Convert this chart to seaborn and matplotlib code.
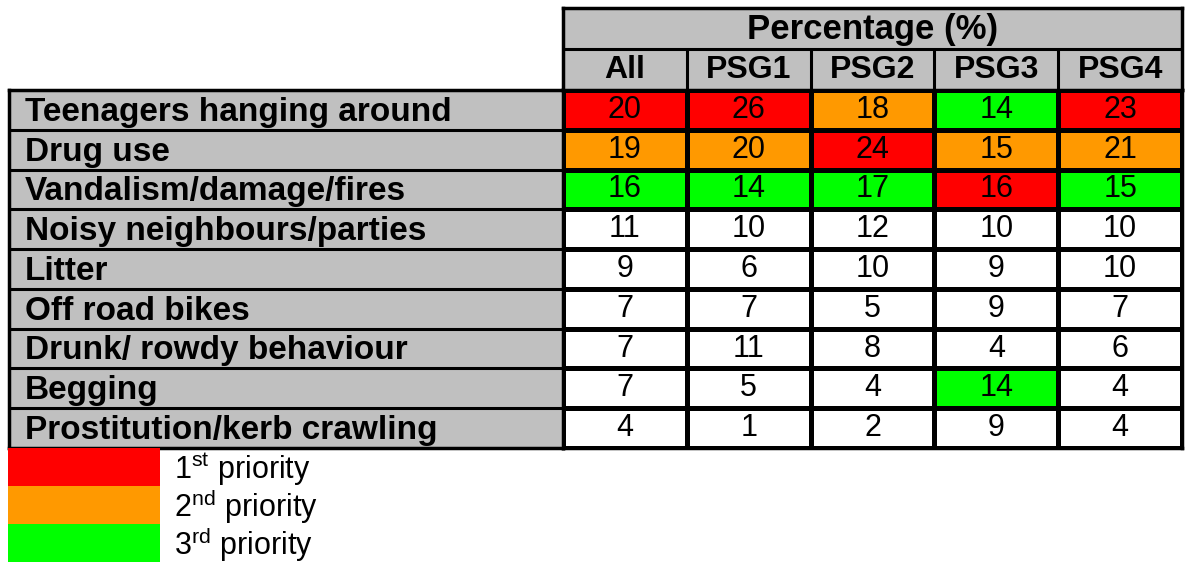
import matplotlib
matplotlib.use('Agg')

import numpy as np
import pandas as pd
import matplotlib.pyplot as plt
import seaborn as sns
from matplotlib.colors import ListedColormap

problems = ["Teenagers hanging around", "Drug use", "Vandalism/damage/fires",
            "Noisy neighbours/parties", "Litter", "Off road bikes",
            "Drunk/ rowdy behaviour", "Begging", "Prostitution/kerb crawling"]
groups = ["All", "PSG1", "PSG2", "PSG3", "PSG4"]

pct_all = [20, 19, 16, 11, 9, 7, 7, 7, 4]
pct_psg1 = [26, 20, 14, 10, 6, 7, 11, 5, 1]
pct_psg2 = [18, 24, 17, 12, 10, 5, 8, 4, 2]
pct_psg3 = [14, 15, 16, 10, 9, 9, 4, 14, 9]
pct_psg4 = [23, 21, 15, 10, 10, 7, 6, 4, 4]

# priority rank per cell (0 = none, 1 = 1st, 2 = 2nd, 3 = 3rd)
rank_all = [1, 2, 3, 0, 0, 0, 0, 0, 0]
rank_psg1 = [1, 2, 3, 0, 0, 0, 0, 0, 0]
rank_psg2 = [2, 1, 3, 0, 0, 0, 0, 0, 0]
rank_psg3 = [3, 2, 1, 0, 0, 0, 0, 3, 0]
rank_psg4 = [1, 2, 3, 0, 0, 0, 0, 0, 0]

legend_labels = ["1$^{st}$ priority", "2$^{nd}$ priority", "3$^{rd}$ priority"]

RED, ORANGE, GREEN, GREY = "#FF0000", "#FF9900", "#00FF00", "#C0C0C0"

values = pd.DataFrame(dict(zip(groups, [pct_all, pct_psg1, pct_psg2, pct_psg3, pct_psg4])),
                      index=problems)
ranks = pd.DataFrame(dict(zip(groups, [rank_all, rank_psg1, rank_psg2, rank_psg3, rank_psg4])),
                     index=problems)

sns.set_theme(style="white")
plt.rcParams['font.family'] = ['Liberation Sans', 'DejaVu Sans']
plt.rcParams['text.color'] = 'black'
plt.rcParams['mathtext.default'] = 'regular'

W, H = 1187, 563
fig = plt.figure(figsize=(W / 100, H / 100), dpi=100)

def box(x0, y0, x1, y1):
    # pixel box (top-left origin) -> figure fraction rect
    return [x0 / W, 1 - y1 / H, (x1 - x0) / W, (y1 - y0) / H]

# --- data cells ---
ax = fig.add_axes(box(563, 90, 1182, 448))
cmap = ListedColormap(["white", RED, ORANGE, GREEN])
sns.heatmap(ranks, ax=ax, cmap=cmap, vmin=-0.5, vmax=3.5, cbar=False,
            annot=values, fmt="d", linewidths=2.2, linecolor="black",
            annot_kws={"fontsize": 22, "color": "black"},
            xticklabels=False, yticklabels=False)
for s in ax.spines.values():
    s.set_visible(True)
    s.set_linewidth(2.5)
    s.set_color("black")

# --- row label column ---
axl = fig.add_axes(box(9, 90, 563, 448))
axl.set_facecolor(GREY)
axl.set_xlim(0, 1)
axl.set_ylim(len(problems), 0)
for i, name in enumerate(problems):
    axl.text(0.029, i + 0.56, name, fontsize=24, fontweight="bold", va="center", ha="left")
for i in range(1, len(problems)):
    axl.axhline(i, color="black", lw=2.2)
axl.set_xticks([])
axl.set_yticks([])
for s in axl.spines.values():
    s.set_linewidth(2.5)
    s.set_color("black")

# --- header ---
axh = fig.add_axes(box(563, 8, 1182, 90))
axh.set_facecolor(GREY)
axh.set_xlim(0, len(groups))
axh.set_ylim(2, 0)
axh.text(len(groups) / 2, 0.52, "Percentage (%)", fontsize=25, fontweight="bold",
         ha="center", va="center")
for j, g in enumerate(groups):
    axh.text(j + 0.5, 1.52, g, fontsize=23, fontweight="bold", ha="center", va="center")
axh.axhline(1, color="black", lw=2.2)
for j in range(1, len(groups)):
    axh.plot([j, j], [1, 2], color="black", lw=2.2)
axh.set_xticks([])
axh.set_yticks([])
for s in axh.spines.values():
    s.set_linewidth(2.5)
    s.set_color("black")

# --- priority key ---
axk = fig.add_axes(box(8, 448, 160, 562))
key = pd.DataFrame({"k": [0, 1, 2]})
sns.heatmap(key, ax=axk, cmap=ListedColormap([RED, ORANGE, GREEN]), cbar=False,
            xticklabels=False, yticklabels=False, linewidths=0)
for i, lab in enumerate(legend_labels):
    fig.text(174 / W, 1 - (448 + 38 * i + 21) / H, lab, fontsize=22,
             va="center", ha="left")

fig.savefig("out.png", dpi=100)
